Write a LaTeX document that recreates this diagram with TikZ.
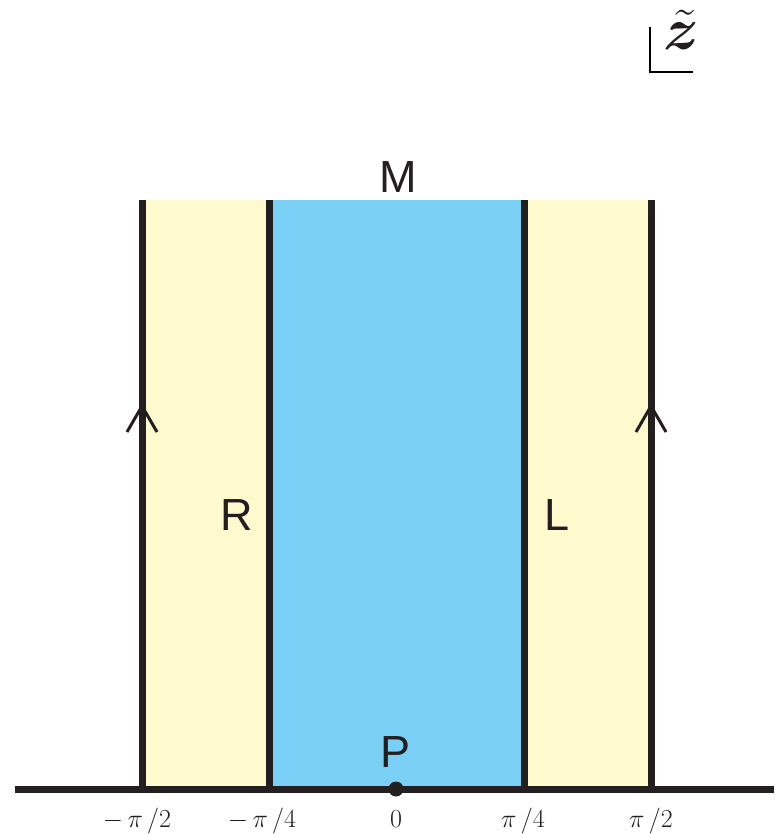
\RequirePackage{fix-cm}
\documentclass[tikz,border=0pt]{standalone}
\usepackage{amsmath,bm}
\usepackage{fontspec}
\newfontfamily\labfont{Liberation Sans}
\definecolor{ylw}{RGB}{255,249,206}
\definecolor{blu}{RGB}{122,208,244}
\definecolor{ink}{RGB}{35,31,32}
\begin{document}
\begin{tikzpicture}[x=1pt,y=-1pt,
  wall/.style={draw=ink,line width=7pt},
  chev/.style={draw=ink,line width=3pt,miter limit=10},
  reg/.style={font=\labfont\fontsize{45}{50}\selectfont,text=ink,inner sep=0pt},
  tick/.style={font=\fontsize{26}{30}\selectfont,text=ink,inner sep=0pt,anchor=base}]
\useasboundingbox (0,0) rectangle (774,834);
% regions
\fill[ylw] (142,200) rectangle (269,789);
\fill[blu] (269,200) rectangle (524,789);
\fill[ylw] (524,200) rectangle (651,789);
% coordinates
\coordinate (a1) at (142,200); \coordinate (a0) at (142,789);
\coordinate (b1) at (269,200); \coordinate (b0) at (269,789);
\coordinate (c1) at (524,200); \coordinate (c0) at (524,789);
\coordinate (d1) at (651,200); \coordinate (d0) at (651,789);
\coordinate (axL) at (15,789); \coordinate (axR) at (774,789);
% walls
\draw[wall] (a0) -- (a1);
\draw[wall] (b0) -- (b1);
\draw[wall] (c0) -- (c1);
\draw[wall] (d0) -- (d1);
\draw[wall] (axL) -- (axR);
% chevrons
\draw[chev] (127,432) -- (142,406) -- (157,432);
\draw[chev] (636,432) -- (651,406) -- (666,432);
% point P
\node[circle,fill=ink,inner sep=0pt,minimum size=15pt] (p) at (396,789) {};
% labels
\node[reg] (M) at (398,177) {M};
\node[reg] (R) at (237,515) {R};
\node[reg] (L) at (557,515) {L};
\node[reg] (P) at (396,752) {P};
\node[tick] (t1) at (137,827) {$-\,\pi\,/2$};
\node[tick] (t2) at (262,827) {$-\,\pi\,/4$};
\node[tick] (t3) at (396,827) {$0$};
\node[tick] (t4) at (523,827) {$\pi\,/4$};
\node[tick] (t5) at (651,827) {$\pi\,/2$};
% z-tilde
\node[inner sep=0pt,anchor=base,text=ink,font=\fontsize{60}{64}\selectfont] (zt) at (681,50) {$\bm{\tilde z}$};
\draw[draw=black,line width=2.5pt] (650,27) -- (650,72) -- (693,72);
\end{tikzpicture}
\end{document}
